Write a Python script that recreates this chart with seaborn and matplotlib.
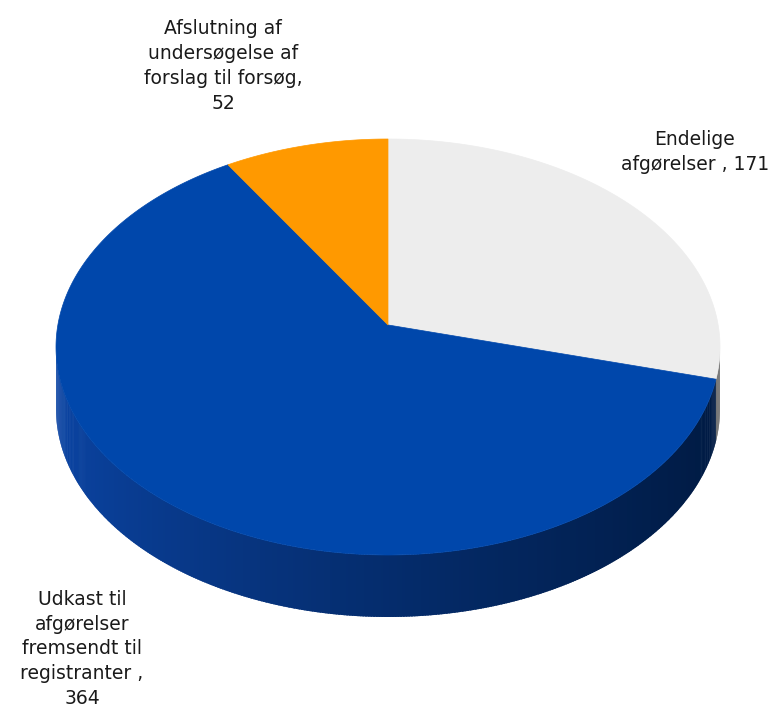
import numpy as np
import matplotlib
matplotlib.use("Agg")
import matplotlib.pyplot as plt
import matplotlib.colors as mcolors
from matplotlib.patches import Polygon
import seaborn as sns

sns.set_theme(style="white")
plt.rcParams['font.family'] = ['DejaVu Sans']

categories = ["Endelige\nafgørelser , 171",
              "Udkast til\nafgørelser\nfremsendt til\nregistranter ,\n364",
              "Afslutning af\nundersøgelse af\nforslag til forsøg,\n52"]
values = [171, 364, 52]
colors = ["#EDEDED", "#0047AB", "#FF9900"]
wall_light = ["#9A9A9A", "#0B45A6", "#C07000"]
wall_dark = ["#6A6A6A", "#001A42", "#8A5000"]

W, H = 782, 709
fig = plt.figure(figsize=(W / 100, H / 100), dpi=100)
ax = fig.add_axes([0, 0, 1, 1])

cx_px, cy_px, rx_px, ry_px, depth_px = 388, 347, 332, 208, 62
xlim = (-cx_px / rx_px, (W - cx_px) / rx_px)
ylim = (-(H - cy_px) / ry_px, cy_px / ry_px)
depth = depth_px / ry_px

# perspective (projective) tilt of the pie disc
k = 0.106
y_off = -k / (1 - k ** 2)
y_half = 1 / (1 - k ** 2)
v0 = y_off / (1 - k * y_off)
x_half = np.sqrt(1 - v0 ** 2) / (1 + k * v0)


def proj(u, v):
    u = np.asarray(u, float)
    v = np.asarray(v, float)
    d = 1 + k * v
    return (u / d) / x_half, (v / d - y_off) / y_half


# pie top face via matplotlib pie, then tilted in perspective
wedges, _ = ax.pie(values, colors=colors, startangle=90, counterclock=False,
                   wedgeprops=dict(linewidth=0))
bounds = []
new_polys = []
for w, c in zip(wedges, colors):
    bounds.append((w.theta1, w.theta2))
    cxw, cyw = w.center
    t = np.radians(np.linspace(w.theta1, w.theta2, 400))
    us = np.concatenate([[cxw], cxw + w.r * np.cos(t)])
    vs = np.concatenate([[cyw], cyw + w.r * np.sin(t)])
    xs, ys = proj(us, vs)
    new_polys.append((np.column_stack([xs, ys]), c))
    w.remove()


def seg_index(theta):
    for i, (lo, hi) in enumerate(bounds):
        for kk in (-360, 0, 360):
            if lo <= theta + kk <= hi:
                return i
    return 1


# side wall strips, only the visible front between the silhouettes
sil = np.degrees(np.arcsin(k))
thetas = np.linspace(180 + sil, 360 - sil, 400)
for t0, t1 in zip(thetas[:-1], thetas[1:]):
    tm = 0.5 * (t0 + t1)
    i = seg_index(tm)
    f = (np.cos(np.radians(tm)) + 1) / 2
    f = f ** 0.8
    c0 = np.array(mcolors.to_rgb(wall_light[i]))
    c1 = np.array(mcolors.to_rgb(wall_dark[i]))
    col = c0 * (1 - f) + c1 * f
    r0, r1 = np.radians(t0), np.radians(min(t1 + 0.3, 360 - sil))
    x0, y0 = proj(np.cos(r0), np.sin(r0))
    x1, y1 = proj(np.cos(r1), np.sin(r1))
    ax.fill([x0, x1, x1, x0], [y0, y1, y1 - depth, y0 - depth],
            color=col, lw=0, zorder=1)

for poly, c in new_polys:
    ax.add_patch(Polygon(poly, closed=True, facecolor=c, edgecolor=c,
                         lw=0.5, zorder=2))

ax.set_aspect("auto")
ax.set_xlim(*xlim)
ax.set_ylim(*ylim)
ax.axis("off")

label_pos = [(695, 152), (82, 649), (223, 66)]
for text, (px, py) in zip(categories, label_pos):
    fig.text(px / W, 1 - py / H, text, ha="center", va="center",
             multialignment="center", fontsize=13.5, linespacing=1.38,
             color="#1a1a1a")

fig.savefig("out.png", dpi=100)
